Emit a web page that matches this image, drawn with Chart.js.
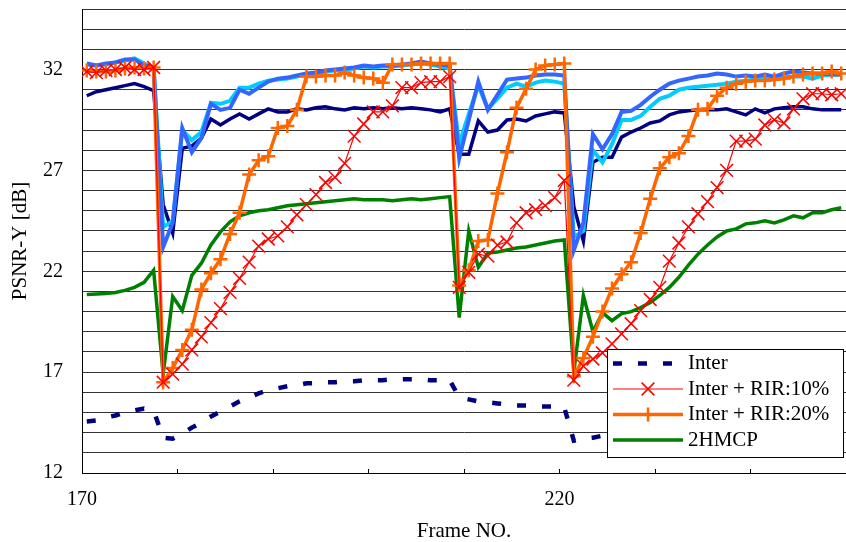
<!DOCTYPE html>
<html>
<head>
<meta charset="utf-8">
<script src="https://cdn.jsdelivr.net/npm/chart.js@4.4.1/dist/chart.umd.min.js"></script>
<style>
  html, body { margin: 0; padding: 0; background: #fff; }
  #wrap { width: 846px; height: 542px; position: relative; }
</style>
</head>
<body>
<div id="wrap"><canvas id="psnr"></canvas></div>
<script>
// Frame numbers (one point per frame)
const frames = [
  170, 171, 172, 173, 174, 175, 176, 177, 178, 179,
  180, 181, 182, 183, 184, 185, 186, 187, 188, 189,
  190, 191, 192, 193, 194, 195, 196, 197, 198, 199,
  200, 201, 202, 203, 204, 205, 206, 207, 208, 209,
  210, 211, 212, 213, 214, 215, 216, 217, 218, 219,
  220, 221, 222, 223, 224, 225, 226, 227, 228, 229,
  230, 231, 232, 233, 234, 235, 236, 237, 238, 239,
  240, 241, 242, 243, 244, 245, 246, 247, 248, 249
];

// Axis ticks
const xTickFrames = [170, 180, 190, 200, 210, 220, 230, 240, 250];
const xLabelFrames = [170, 220];
const yLabelValues = [12, 17, 22, 27, 32];

// PSNR-Y [dB] per frame
const inter = [
  14.55, 14.6, 14.75, 14.85, 15.0, 15.1, 15.2, 15.1, 13.75, 13.7,
  13.95, 14.25, 14.5, 14.8, 15.05, 15.3, 15.55, 15.75, 15.95, 16.1,
  16.2, 16.3, 16.35, 16.45, 16.45, 16.5, 16.5, 16.55, 16.55, 16.6,
  16.6, 16.6, 16.65, 16.65, 16.65, 16.65, 16.6, 16.6, 16.6, 15.75,
  15.65, 15.55, 15.5, 15.45, 15.4, 15.35, 15.35, 15.3, 15.3, 15.3,
  15.25, 13.6, 13.7, 13.75, 13.85, 14.0, 14.3, 14.6, 14.9, 15.2,
  15.45, 15.7, 15.9, 16.1, 16.25, 16.4, 16.5, 16.6, 16.65, 16.7,
  16.8, 16.85, 16.9, 16.95, 17.0, 17.05, 17.1, 17.15, 17.2, 17.25
];

const rir10 = [
  31.9, 31.85, 31.95, 32.0, 32.1, 32.0, 32.0, 32.1, 16.5, 16.9,
  17.4, 18.1, 18.75, 19.45, 20.15, 20.95, 21.65, 22.45, 23.25, 23.6,
  23.75, 24.2, 24.8, 25.3, 25.8, 26.4, 26.65, 27.35, 28.7, 29.3,
  29.9, 29.9, 30.2, 31.1, 31.1, 31.35, 31.4, 31.4, 31.65, 21.2,
  21.95, 22.85, 22.75, 23.3, 23.45, 24.4, 24.9, 25.05, 25.25, 25.65,
  26.5, 16.6, 17.3, 17.65, 17.95, 18.4, 18.9, 19.4, 20.05, 20.6,
  21.2, 22.5, 23.4, 24.2, 24.85, 25.45, 26.15, 27.0, 28.45, 28.45,
  28.55, 29.25, 29.5, 29.35, 30.05, 30.55, 30.8, 30.8, 30.75, 30.8
];

const rir20 = [
  31.95, 31.9, 31.9, 31.95, 32.05, 32.1, 32.05, 32.1, 16.5, 17.2,
  18.1, 19.1, 21.1, 21.9, 22.6, 23.85, 24.9, 26.8, 27.5, 27.7,
  29.1, 29.2, 30.0, 31.65, 31.65, 31.7, 31.7, 31.85, 31.7, 31.6,
  31.55, 31.35, 32.25, 32.25, 32.25, 32.3, 32.3, 32.3, 32.3, 21.3,
  22.05, 23.5, 23.55, 25.85, 27.9, 30.1, 31.05, 32.0, 32.2, 32.25,
  32.3, 16.8, 17.7, 18.75, 20.0, 21.15, 21.85, 22.45, 23.9, 25.6,
  27.1, 27.65, 27.85, 28.7, 30.0, 30.05, 30.7, 31.1, 31.3, 31.4,
  31.45, 31.45, 31.5, 31.55, 31.65, 31.75, 31.8, 31.8, 31.9, 31.8
];

const hmcp2 = [
  20.85, 20.87, 20.9, 20.95, 21.05, 21.2, 21.45, 22.05, 16.9, 20.75,
  20.05, 21.8, 22.4, 23.3, 23.95, 24.45, 24.75, 24.9, 25.0, 25.05,
  25.15, 25.25, 25.3, 25.35, 25.4, 25.45, 25.5, 25.55, 25.6, 25.55,
  25.55, 25.55, 25.5, 25.55, 25.6, 25.55, 25.6, 25.65, 25.7, 19.7,
  24.0, 22.2, 22.9, 22.95, 23.05, 23.15, 23.2, 23.3, 23.4, 23.5,
  23.55, 17.0, 20.8, 19.0, 19.95, 19.55, 19.9, 20.0, 20.2, 20.45,
  20.8, 21.2, 21.7, 22.3, 22.85, 23.3, 23.7, 24.0, 24.1, 24.35,
  24.4, 24.5, 24.4, 24.55, 24.75, 24.65, 24.9, 24.9, 25.05, 25.15
];

// series without a legend entry
const navySolid = [
  30.7, 30.9, 31.0, 31.1, 31.2, 31.3, 31.15, 30.95, 25.3, 23.9,
  28.1, 28.2, 28.6, 29.55, 29.25, 29.55, 29.8, 29.55, 29.8, 30.05,
  29.9, 29.9, 30.05, 30.0, 30.1, 30.15, 30.05, 30.0, 30.1, 30.05,
  30.1, 30.05, 30.1, 30.05, 30.1, 30.05, 30.0, 29.9, 30.05, 27.8,
  27.8, 29.45, 28.9, 29.0, 29.5, 29.55, 29.45, 29.7, 29.8, 29.9,
  29.85, 25.2, 23.5, 27.4, 27.65, 27.65, 28.65, 28.9, 29.1, 29.35,
  29.45, 29.75, 29.9, 29.95, 30.0, 30.0, 30.0, 30.05, 29.9, 29.75,
  30.05, 29.85, 30.05, 30.1, 30.15, 30.15, 30.05, 30.0, 30.0, 30.0
];

const cyanSolid = [
  32.25, 32.2, 32.25, 32.35, 32.45, 32.55, 32.3, 32.1, 24.2, 24.5,
  29.0, 28.5, 28.9, 30.35, 30.3, 30.45, 31.1, 31.1, 31.3, 31.45,
  31.5, 31.55, 31.65, 31.75, 31.8, 31.9, 31.95, 32.0, 32.05, 32.15,
  32.1, 32.15, 32.15, 32.2, 32.25, 32.3, 32.25, 32.15, 32.05, 28.3,
  29.8, 31.2, 30.05, 30.55, 31.1, 31.3, 31.15, 31.35, 31.45, 31.4,
  31.3, 23.7, 24.0, 28.0, 27.4, 28.3, 29.5, 29.5, 29.7, 30.15,
  30.55, 30.7, 31.0, 31.1, 31.15, 31.2, 31.25, 31.3, 31.4, 31.45,
  31.5, 31.55, 31.6, 31.6, 31.65, 31.65, 31.55, 31.7, 31.75, 31.75
];

const blueSolid = [
  32.3, 32.2, 32.3, 32.35, 32.5, 32.5, 32.2, 32.1, 23.2, 24.4,
  29.1, 27.9, 28.6, 30.3, 30.0, 30.1, 31.0, 30.8, 31.1, 31.4,
  31.55, 31.6, 31.7, 31.8, 31.85, 31.95, 32.0, 32.05, 32.1, 32.2,
  32.15, 32.2, 32.2, 32.25, 32.3, 32.4, 32.3, 32.25, 32.2, 27.6,
  29.5, 31.4, 30.0, 30.75, 31.5, 31.55, 31.6, 31.7, 31.75, 31.75,
  31.7, 23.05, 24.4, 28.8, 28.05, 28.8, 29.9, 29.95, 30.25, 30.65,
  31.0, 31.3, 31.45, 31.55, 31.65, 31.7, 31.8, 31.75, 31.65, 31.7,
  31.65, 31.75, 31.65, 31.8, 31.9, 31.85, 31.8, 31.8, 31.75, 31.75
];

const legendOrder = ['Inter', 'Inter + RIR:10%', 'Inter + RIR:20%', '2HMCP'];

Chart.defaults.font.family = '"Liberation Serif", "Times New Roman", serif';
Chart.defaults.color = '#000';

// Legend box drawn inside the plot, like the original figure
const boxLegend = {
    id: 'boxLegend',
    afterDraw(chart, args, opts) {
        const ctx = chart.ctx;
        ctx.save();
        ctx.fillStyle = '#fff';
        ctx.fillRect(opts.left, opts.top, opts.width, opts.height);
        ctx.strokeStyle = '#000';
        ctx.lineWidth = 1;
        ctx.strokeRect(opts.left + 0.5, opts.top + 0.5, opts.width, opts.height);

        legendOrder.forEach((name, i) => {
            const ds = chart.data.datasets.find(d => d.label === name);
            if (!ds) return;
            const y = opts.firstRow + i * opts.rowHeight;
            ctx.save();
            ctx.strokeStyle = ds.borderColor;
            ctx.lineWidth = ds.borderWidth;
            ctx.setLineDash(ds.borderDash || []);
            ctx.beginPath();
            ctx.moveTo(opts.sampleLeft, y);
            ctx.lineTo(opts.sampleRight, y);
            ctx.stroke();
            ctx.restore();

            if (ds.pointRadius > 0) {
                ctx.save();
                ctx.strokeStyle = ds.pointBorderColor;
                ctx.fillStyle = 'rgba(0,0,0,0)';
                ctx.lineWidth = ds.pointBorderWidth;
                Chart.helpers.drawPoint(ctx, {
                    pointStyle: ds.pointStyle,
                    radius: ds.pointRadius,
                    borderWidth: ds.pointBorderWidth,
                    rotation: 0
                }, (opts.sampleLeft + opts.sampleRight) / 2, y);
                ctx.restore();
            }

            ctx.fillStyle = '#000';
            ctx.font = '21px "Liberation Serif", serif';
            ctx.textBaseline = 'middle';
            ctx.textAlign = 'left';
            ctx.fillText(name, opts.textLeft, y);
        });
        ctx.restore();
    }
};

const ctx = document.getElementById('psnr').getContext('2d');

new Chart(ctx, {
    type: 'line',
    data: {
        labels: frames,
        datasets: [
            {
                label: 'Inter + RIR:10%',
                data: rir10,
                borderColor: '#FF0000',
                borderWidth: 1.2,
                pointStyle: 'crossRot',
                pointRadius: 9,
                pointBorderColor: '#FF0000',
                pointBorderWidth: 1.5,
                pointBackgroundColor: 'rgba(0,0,0,0)'
            },
            {
                label: 'Inter + RIR:20%',
                data: rir20,
                borderColor: '#FF6600',
                borderWidth: 3.5,
                pointStyle: 'cross',
                pointRadius: 7,
                pointBorderColor: '#FF6600',
                pointBorderWidth: 2.5,
                pointBackgroundColor: 'rgba(0,0,0,0)'
            },
            {
                label: '2HMCP',
                data: hmcp2,
                borderColor: '#008000',
                borderWidth: 3.5,
                pointRadius: 0
            },
            {
                label: 'blue',
                data: blueSolid,
                borderColor: '#3366FF',
                borderWidth: 4,
                pointRadius: 0
            },
            {
                label: 'cyan',
                data: cyanSolid,
                borderColor: '#00CCFF',
                borderWidth: 4,
                pointRadius: 0
            },
            {
                label: 'navy',
                data: navySolid,
                borderColor: '#000080',
                borderWidth: 3.5,
                pointRadius: 0
            },
            {
                label: 'Inter',
                data: inter,
                borderColor: '#000080',
                borderWidth: 4.5,
                borderDash: [9, 16],
                borderCapStyle: 'butt',
                pointRadius: 0
            }
        ]
    },
    options: {
        responsive: true,
        maintainAspectRatio: false,
        animation: false,
        layout: {
            autoPadding: false,
            padding: { top: 9, right: 0, bottom: 0, left: 0 }
        },
        elements: {
            line: { tension: 0, fill: false }
        },
        plugins: {
            legend: { display: false },
            tooltip: { enabled: false },
            boxLegend: {
                left: 607, top: 349, width: 236, height: 108,
                firstRow: 363.5, rowHeight: 25.5,
                sampleLeft: 613, sampleRight: 683, textLeft: 688
            }
        },
        scales: {
            x: {
                type: 'linear',
                min: 169.5,
                max: 249.5,
                afterBuildTicks: (axis) => {
                    axis.ticks = xTickFrames.map(f => ({ value: f - 0.5 }));
                },
                afterFit: (axis) => {
                    axis.height = 69;
                    axis.paddingLeft = 0;
                    axis.paddingRight = 0;
                    axis.paddingTop = 0;
                    axis.paddingBottom = 0;
                },
                border: { color: '#000', width: 1 },
                grid: {
                    drawOnChartArea: false,
                    drawTicks: true,
                    tickLength: -4,
                    color: '#000'
                },
                ticks: {
                    autoSkip: false,
                    maxRotation: 0,
                    padding: 19,
                    font: { size: 20 },
                    color: '#000',
                    callback: (value) => {
                        const f = Math.round(value + 0.5);
                        return xLabelFrames.includes(f) ? String(f) : '';
                    }
                },
                title: {
                    display: true,
                    text: 'Frame NO.',
                    font: { size: 21, lineHeight: 1 },
                    padding: 0,
                    color: '#000'
                }
            },
            y: {
                min: 12,
                max: 35,
                afterFit: (axis) => {
                    axis.width = 82;
                    axis.paddingLeft = 0;
                    axis.paddingRight = 0;
                    axis.paddingTop = 0;
                    axis.paddingBottom = 0;
                },
                border: { color: '#000', width: 1 },
                grid: {
                    color: '#333',
                    lineWidth: 1,
                    drawTicks: false
                },
                ticks: {
                    stepSize: 1,
                    autoSkip: false,
                    padding: 19,
                    font: { size: 20 },
                    color: '#000',
                    callback: (value) => yLabelValues.includes(value) ? String(value) : ''
                },
                title: {
                    display: true,
                    text: 'PSNR-Y [dB]',
                    font: { size: 21, lineHeight: 1 },
                    padding: { top: 9.5, bottom: 0 },
                    color: '#000'
                }
            }
        }
    },
    plugins: [boxLegend]
});
</script>
</body>
</html>
